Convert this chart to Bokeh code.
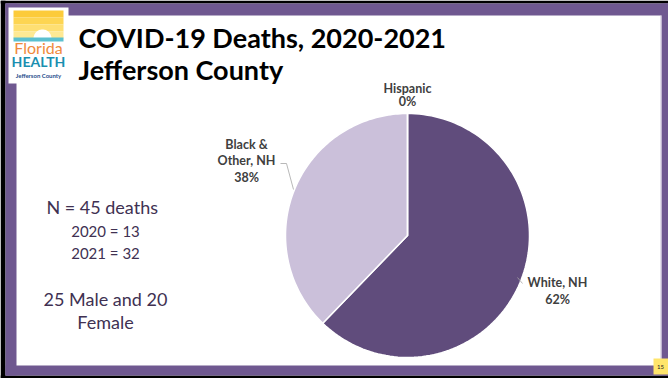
import numpy as np
from bokeh.plotting import figure
from bokeh.models import Range1d, ColumnDataSource, GlobalInlineStyleSheet
from bokeh.core.properties import value
from bokeh.embed import file_html
from bokeh.resources import INLINE

# ---- data ----
categories = ["White, NH", "Black & Other, NH", "Hispanic"]
deaths = [28, 17, 0]
pct_labels = ["62%", "38%", "0%"]
slice_colors = ["#604C7C", "#CBC0DA", "#FFFFFF"]

W, H = 668, 378
FONT = "Lato"

def Y(y):
    return H - y

p = figure(width=W, height=H, output_backend="svg", toolbar_location=None,
           x_range=Range1d(0, W), y_range=Range1d(0, H), min_border=0)
p.axis.visible = False
p.grid.visible = False
p.outline_line_color = None
p.background_fill_color = "white"
p.border_fill_color = "white"
p.stylesheets = [GlobalInlineStyleSheet(css="body{margin:0 !important;overflow:hidden;}")]

def sector(cx, cy, r, a0, a1, n=120):
    # clockwise from a0 to a1 (radians, math convention)
    t = np.linspace(a0, a1, n)
    xs = np.concatenate([[cx], cx + r * np.cos(t), [cx]])
    ys = np.concatenate([[cy], cy + r * np.sin(t), [cy]])
    return xs, ys

# ---- slide frame ----
FRAME = "#6F5890"
def box(x0, y0, x1, y1, color):
    p.quad(left=x0, right=x1, top=Y(y0), bottom=Y(y1), fill_color=color, line_color=None)

box(0, 0, W, 3, "black")
box(0, 0, 5, H, "black")
box(0, 375, W, H, "black")
box(5, 3, W, 15, FRAME)
box(5, 3, 16, 375, FRAME)
box(661, 3, W, 375, FRAME)
box(5, 365, W, 375, FRAME)
box(660, 15, 661, 365, "#C9BFD8")
box(653, 358, W, 374, "#FFE56B")
p.text(x=[660], y=[Y(366)], text=["15"], text_font=value(FONT), text_font_size="6px",
       text_color="#222222", text_align="center", text_baseline="middle")

# ---- logo ----
box(8, 7, 68, 83, "white")
rays = ["#FCCB3A", "#FDD552", "#FEDF72", "#FEE994"]
for i, c in enumerate(rays):
    box(13, 10 + i * 7, 63, 17 + i * 7, c)
sx, sy = sector(42, Y(38), 9, 0, np.pi, 40)
p.patch(x=sx, y=sy, fill_color="white", line_color=None)
box(13, 37, 63, 41, "#5BC0D0")
p.text(x=[38], y=[Y(47)], text=["Florida"], text_font=value(FONT), text_font_size="16px",
       text_color="#F08A3C", text_align="center", text_baseline="middle")
p.text(x=[38], y=[Y(61)], text=["HEALTH"], text_font=value(FONT), text_font_size="14px",
       text_font_style="bold", text_color="#1A8FB0", text_align="center", text_baseline="middle")
p.text(x=[38], y=[Y(75)], text=["Jefferson County"], text_font=value(FONT), text_font_size="6px",
       text_font_style="bold", text_color="#1F4E8C", text_align="center", text_baseline="middle")

# ---- title ----
p.text(x=[78, 78], y=[Y(37), Y(69)], text=["COVID-19 Deaths, 2020-2021", "Jefferson County"],
       text_font=value(FONT), text_font_size="27px", text_font_style="bold",
       text_color="black", text_align="left", text_baseline="middle")

# ---- pie ----
cx, cy, r = 407, Y(235), 122
total = sum(deaths)
fr = np.array(deaths) / total
cum = np.concatenate([[0], np.cumsum(fr)])
start = np.pi / 2 - 2 * np.pi * cum[:-1]
end = np.pi / 2 - 2 * np.pi * cum[1:]
xs_list, ys_list = [], []
for a0, a1 in zip(start, end):
    xs, ys = sector(cx, cy, r, a0, a1)
    xs_list.append(xs)
    ys_list.append(ys)
src = ColumnDataSource(dict(xs=xs_list, ys=ys_list, color=slice_colors, cat=categories))
p.patches(xs="xs", ys="ys", fill_color="color", line_color="white", line_width=1.5,
          line_join="round", source=src)

# ---- slice labels ----
LAB = "#404040"
lab_kw = dict(text_font=value(FONT), text_font_size="12.5px", text_font_style="bold",
              text_color=LAB, text_align="center", text_baseline="middle")
p.text(x=[407, 407], y=[Y(88), Y(101)], text=[categories[2], pct_labels[2]], **lab_kw)
p.text(x=[246, 246, 246], y=[Y(144), Y(160), Y(177)],
       text=["Black &", "Other, NH", pct_labels[1]], **lab_kw)
p.text(x=[557, 557], y=[Y(282), Y(299)], text=[categories[0], pct_labels[0]], **lab_kw)
p.line(x=[280, 286, 293], y=[Y(163), Y(163), Y(189)], line_color="#A6A6A6", line_width=0.8)
p.line(x=[517, 522], y=[Y(277), Y(283)], line_color="#A6A6A6", line_width=0.8)

# ---- left text ----
TXT = "#403152"
p.text(x=[104], y=[Y(206)], text=["N =  45 deaths"], text_font=value(FONT), text_font_size="18px",
       text_color=TXT, text_align="center", text_baseline="middle")
p.text(x=[105, 105], y=[Y(230), Y(252)], text=["2020 = 13", "2021 = 32"], text_font=value(FONT),
       text_font_size="15px", text_color=TXT, text_align="center", text_baseline="middle")
p.text(x=[105, 105], y=[Y(298), Y(321)], text=["25 Male and 20", "Female"], text_font=value(FONT),
       text_font_size="18px", text_color=TXT, text_align="center", text_baseline="middle")

open("out.html", "w").write(file_html(p, INLINE))
